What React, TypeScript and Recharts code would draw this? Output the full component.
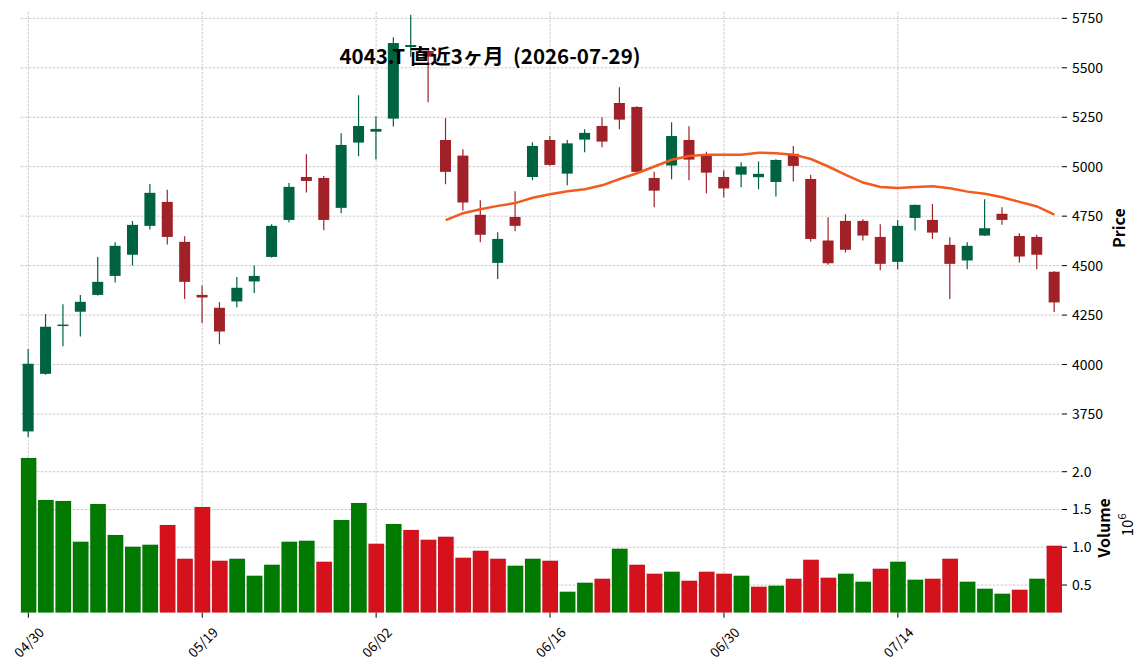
import React from 'react';
import { ComposedChart, Bar, Line, XAxis, YAxis, CartesianGrid, Cell, Label } from 'recharts';

// daily OHLC (60 sessions)
const opens = [3662, 3953, 4198, 4267, 4352, 4448, 4555, 4701, 4822, 4620, 4352, 4287, 4319, 4420, 4544, 4731, 4948, 4943, 4792, 5122, 5177, 5243, 5605, 5585, 5135, 5056, 4757, 4514, 4746, 4948, 5135, 4965, 5137, 5206, 5322, 5302, 4943, 5006, 5135, 5056, 4948, 4960, 4947, 4923, 5065, 4938, 4627, 4726, 4726, 4645, 4519, 4741, 4731, 4605, 4526, 4652, 4762, 4650, 4645, 4469];
const highs = [4078, 4256, 4305, 4351, 4543, 4618, 4725, 4913, 4883, 4649, 4400, 4316, 4442, 4501, 4709, 4918, 5063, 4953, 5169, 5361, 5255, 5654, 5768, 5592, 5245, 5088, 4831, 4669, 4876, 5124, 5155, 5135, 5189, 5250, 5401, 5305, 4975, 5225, 5204, 5076, 4982, 5022, 5026, 5038, 5105, 4959, 4745, 4760, 4735, 4709, 4731, 4809, 4812, 4644, 4618, 4836, 4795, 4664, 4656, 4472];
const lows = [3634, 3948, 4092, 4142, 4349, 4415, 4501, 4683, 4607, 4331, 4209, 4103, 4290, 4361, 4541, 4718, 4869, 4679, 4765, 5053, 5036, 5203, 5556, 5326, 4911, 4778, 4618, 4432, 4674, 4932, 5005, 4906, 5073, 5098, 5189, 4972, 4795, 4937, 4932, 4866, 4846, 4896, 4886, 4849, 4925, 4622, 4504, 4566, 4627, 4477, 4482, 4677, 4634, 4331, 4482, 4650, 4706, 4516, 4482, 4265];
const closes = [4004, 4191, 4202, 4317, 4418, 4600, 4706, 4868, 4645, 4418, 4339, 4167, 4388, 4448, 4701, 4898, 4928, 4731, 5110, 5206, 5191, 5625, 5615, 5556, 4974, 4819, 4656, 4635, 4701, 5105, 5009, 5118, 5171, 5127, 5238, 4974, 4879, 5155, 5036, 4970, 4890, 5001, 4964, 5034, 5004, 4635, 4512, 4580, 4652, 4509, 4701, 4807, 4667, 4509, 4600, 4689, 4731, 4546, 4555, 4314];
const volumes = [2180000, 1626000, 1613000, 1072000, 1573000, 1164000, 1006000, 1032000, 1296000, 847000, 1534000, 821000, 847000, 623000, 768000, 1072000, 1085000, 808000, 1362000, 1586000, 1045000, 1309000, 1230000, 1098000, 1138000, 861000, 953000, 847000, 755000, 847000, 821000, 412000, 531000, 583000, 979000, 768000, 649000, 676000, 557000, 676000, 649000, 623000, 478000, 491000, 583000, 834000, 597000, 649000, 544000, 715000, 808000, 570000, 583000, 847000, 544000, 451000, 385000, 438000, 583000, 1019000];
// 25-day moving average line as drawn
const ma25 = [null, null, null, null, null, null, null, null, null, null, null, null, null, null, null, null, null, null, null, null, null, null, null, null,
  4730, 4765, 4785, 4802, 4816, 4843, 4861, 4876, 4886, 4906, 4938, 4967, 5001, 5035, 5054, 5061, 5061, 5061, 5071, 5068, 5061, 5039, 5001, 4959, 4920, 4898, 4893, 4898, 4901, 4891, 4874, 4863, 4846, 4822, 4799, 4758];

const tickIdx = [0, 10, 20, 30, 40, 50];
const tickLabels = ['04/30', '05/19', '06/02', '06/16', '06/30', '07/14'];
const priceTicks = [3750, 4000, 4250, 4500, 4750, 5000, 5250, 5500, 5750];
const volTicks = [500000, 1000000, 1500000, 2000000];

const UP = '#006340';
const DOWN = '#a02128';
const VUP = '#007a00';
const VDOWN = '#d5121b';
const MA_COLOR = '#f25a1e';
const GRID = '#bdbdbd';
const FONT = '"Noto Sans CJK JP", "Noto Sans", sans-serif';

const rows = opens.map((o, i) => ({
  i,
  open: o,
  high: highs[i],
  low: lows[i],
  close: closes[i],
  range: [lows[i], highs[i]],
  ma: ma25[i],
  vol: volumes[i],
  volUp: i === 0 ? closes[0] >= o : closes[i] >= closes[i - 1],
}));

const X_DOMAIN: [number, number] = [-0.44, 59.44];

function Candle(props: any) {
  const { x, y, width, height, payload } = props;
  const { open, close, high, low } = payload;
  const cx = x + width / 2;
  const py = (v: number) => y + ((high - v) / (high - low)) * height;
  const color = close >= open ? UP : DOWN;
  const top = py(Math.max(open, close));
  const bot = py(Math.min(open, close));
  return (
    <g>
      <line x1={cx} x2={cx} y1={y} y2={y + height} stroke={color} strokeWidth={1.2} />
      <rect x={cx - 5.5} y={top} width={11} height={Math.max(bot - top, 1.5)} fill={color} />
    </g>
  );
}

function DateTick(props: any) {
  const { x, y, payload } = props;
  const k = tickIdx.indexOf(payload.value);
  const cy = y + 22;
  return (
    <text x={x} y={cy} transform={`rotate(-45 ${x} ${cy})`} textAnchor="middle" dominantBaseline="central"
      fontFamily={FONT} fontSize={13.5} fill="#000">
      {k >= 0 ? tickLabels[k] : ''}
    </text>
  );
}

const tickStyle = { fontFamily: FONT, fontSize: 14, fill: '#000' };

export default function App() {
  return (
    <div style={{ position: 'absolute', left: 0, top: 0, width: 1148, height: 670, background: '#fff' }}>
      <div style={{ position: 'absolute', left: 0, top: 0 }}>
        <ComposedChart width={1148} height={443} data={rows} margin={{ top: 12, right: 6, bottom: 2, left: 20.7 }}>
          <CartesianGrid stroke={GRID} strokeDasharray="2.6 1.4" strokeWidth={0.8} syncWithTicks />
          <XAxis dataKey="i" type="number" domain={X_DOMAIN} ticks={tickIdx} hide allowDataOverflow />
          <YAxis orientation="right" type="number" domain={[3613.5, 5782]} ticks={priceTicks} allowDataOverflow
            width={80} axisLine={false} tickSize={5} tickMargin={5} tickLine={{ stroke: '#000' }} tick={tickStyle}>
            <Label content={(p: any) => {
              const vb = p.viewBox;
              const cx = vb.x + 56;
              const cy = vb.y + vb.height / 2 + 1.5;
              return (
                <text x={cx} y={cy} transform={`rotate(-90 ${cx} ${cy})`} textAnchor="middle" dominantBaseline="central"
                  fontFamily={FONT} fontSize={16} fontWeight="bold" fill="#000">Price</text>
              );
            }} />
          </YAxis>
          <Bar dataKey="range" barSize={11} shape={<Candle />} isAnimationActive={false} />
          <Line dataKey="ma" type="linear" stroke={MA_COLOR} strokeWidth={2.5} dot={false} connectNulls={false}
            isAnimationActive={false} />
        </ComposedChart>
      </div>
      <div style={{ position: 'absolute', left: 0, top: 443 }}>
        <ComposedChart width={1148} height={227} data={rows} margin={{ top: 0, right: 6, bottom: 0, left: 20.7 }}>
          <CartesianGrid stroke={GRID} strokeDasharray="2.6 1.4" strokeWidth={0.8} syncWithTicks />
          <XAxis dataKey="i" type="number" domain={X_DOMAIN} ticks={tickIdx} allowDataOverflow height={57.3}
            axisLine={false} tickSize={5} tickMargin={2} tickLine={{ stroke: '#000' }} tick={<DateTick />} />
          <YAxis orientation="right" type="number" domain={[134000, 2380000]} ticks={volTicks} allowDataOverflow
            width={80} axisLine={false} tickSize={5} tickMargin={5} tickLine={{ stroke: '#000' }} tick={tickStyle}
            tickFormatter={(v: number) => (v / 1e6).toFixed(1)}>
            <Label content={(p: any) => {
              const vb = p.viewBox;
              const cy = vb.y + vb.height / 2;
              const x1 = vb.x + 41;
              const x2 = vb.x + 65;
              return (
                <g>
                  <text x={x1} y={cy} transform={`rotate(-90 ${x1} ${cy})`} textAnchor="middle" dominantBaseline="central"
                    fontFamily={FONT} fontSize={16} fontWeight="bold" fill="#000">Volume</text>
                  <text x={x2} y={cy - 3} transform={`rotate(-90 ${x2} ${cy - 3})`} textAnchor="middle" dominantBaseline="central"
                    fontFamily={FONT} fontSize={15} fill="#000">10<tspan dy={-6} fontSize={11}>6</tspan></text>
                </g>
              );
            }} />
          </YAxis>
          <Bar dataKey="vol" barSize={17.4} isAnimationActive={false} stroke="rgba(0,0,0,0.12)" strokeWidth={0.6}>
            {rows.map((r, i) => (
              <Cell key={i} fill={r.volUp ? VUP : VDOWN} />
            ))}
          </Bar>
        </ComposedChart>
      </div>
      <div style={{
        position: 'absolute', left: 490, top: 55, transform: 'translate(-50%, -50%)', whiteSpace: 'pre',
        fontFamily: FONT, fontSize: 20.5, fontWeight: 'bold', color: '#000', lineHeight: 1,
      }}>
        {'4043.T 直近3ヶ月  (2026-07-29)'}
      </div>
    </div>
  );
}
